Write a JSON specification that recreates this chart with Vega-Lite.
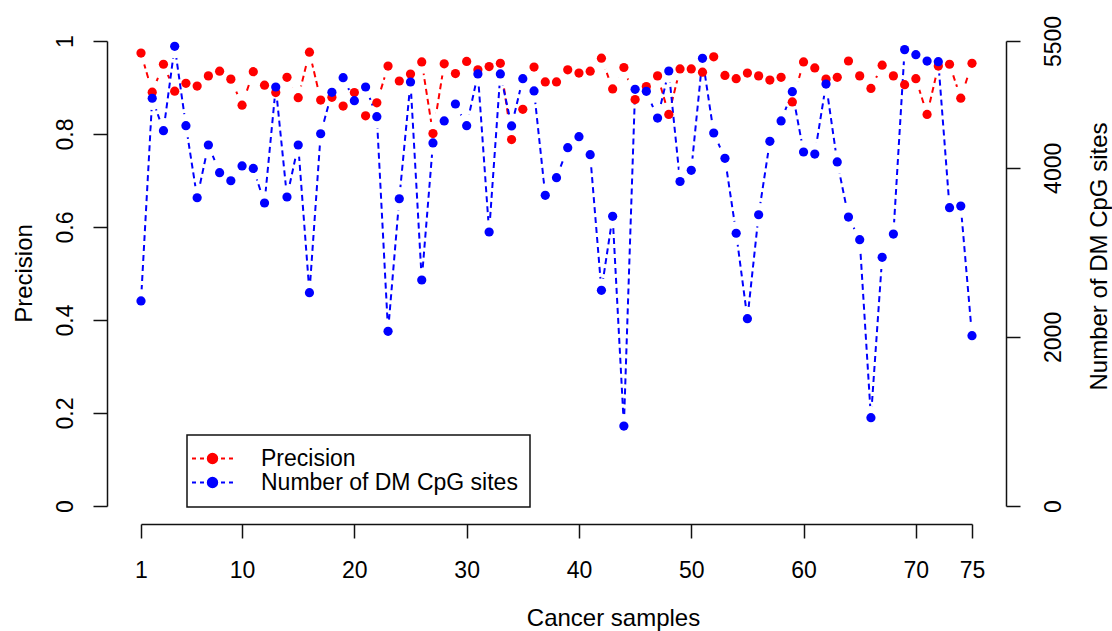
{
  "$schema": "https://vega.github.io/schema/vega-lite/v6.json",
  "width": 831,
  "height": 465,
  "autosize": "none",
  "padding": {"left": 141, "top": 41, "right": 140, "bottom": 125},
  "background": "white",
  "config": {
    "view": {"stroke": null},
    "font": "Liberation Sans",
    "axis": {
      "grid": false,
      "domainColor": "#111111",
      "tickColor": "#111111",
      "labelColor": "#000000",
      "titleColor": "#000000",
      "domainWidth": 1.5,
      "tickWidth": 1.5,
      "tickSize": 14,
      "labelFontSize": 23,
      "titleFontSize": 24,
      "titleFontWeight": "normal",
      "labelFlush": false,
      "labelOverlap": false,
      "labelFont": "Liberation Sans",
      "titleFont": "Liberation Sans"
    }
  },
  "data": {
    "values": [
      {"sample": 1, "precision": 0.974, "sites": 2425},
      {"sample": 2, "precision": 0.890, "sites": 4823},
      {"sample": 3, "precision": 0.950, "sites": 4439},
      {"sample": 4, "precision": 0.892, "sites": 5437},
      {"sample": 5, "precision": 0.909, "sites": 4498},
      {"sample": 6, "precision": 0.903, "sites": 3646},
      {"sample": 7, "precision": 0.925, "sites": 4270},
      {"sample": 8, "precision": 0.935, "sites": 3942},
      {"sample": 9, "precision": 0.918, "sites": 3847},
      {"sample": 10, "precision": 0.862, "sites": 4022},
      {"sample": 11, "precision": 0.934, "sites": 3993},
      {"sample": 12, "precision": 0.905, "sites": 3584},
      {"sample": 13, "precision": 0.889, "sites": 4956},
      {"sample": 14, "precision": 0.922, "sites": 3655},
      {"sample": 15, "precision": 0.878, "sites": 4270},
      {"sample": 16, "precision": 0.976, "sites": 2523},
      {"sample": 17, "precision": 0.873, "sites": 4403},
      {"sample": 18, "precision": 0.879, "sites": 4893},
      {"sample": 19, "precision": 0.860, "sites": 5066},
      {"sample": 20, "precision": 0.889, "sites": 4794},
      {"sample": 21, "precision": 0.839, "sites": 4956},
      {"sample": 22, "precision": 0.867, "sites": 4605},
      {"sample": 23, "precision": 0.946, "sites": 2066},
      {"sample": 24, "precision": 0.914, "sites": 3634},
      {"sample": 25, "precision": 0.929, "sites": 5015},
      {"sample": 26, "precision": 0.955, "sites": 2673},
      {"sample": 27, "precision": 0.801, "sites": 4294},
      {"sample": 28, "precision": 0.951, "sites": 4554},
      {"sample": 29, "precision": 0.930, "sites": 4755},
      {"sample": 30, "precision": 0.956, "sites": 4498},
      {"sample": 31, "precision": 0.938, "sites": 5110},
      {"sample": 32, "precision": 0.945, "sites": 3241},
      {"sample": 33, "precision": 0.952, "sites": 5110},
      {"sample": 34, "precision": 0.788, "sites": 4495},
      {"sample": 35, "precision": 0.853, "sites": 5054},
      {"sample": 36, "precision": 0.944, "sites": 4909},
      {"sample": 37, "precision": 0.912, "sites": 3675},
      {"sample": 38, "precision": 0.912, "sites": 3883},
      {"sample": 39, "precision": 0.938, "sites": 4238},
      {"sample": 40, "precision": 0.931, "sites": 4368},
      {"sample": 41, "precision": 0.935, "sites": 4155},
      {"sample": 42, "precision": 0.963, "sites": 2551},
      {"sample": 43, "precision": 0.897, "sites": 3426},
      {"sample": 44, "precision": 0.943, "sites": 946},
      {"sample": 45, "precision": 0.874, "sites": 4929},
      {"sample": 46, "precision": 0.902, "sites": 4905},
      {"sample": 47, "precision": 0.925, "sites": 4589},
      {"sample": 48, "precision": 0.842, "sites": 5145},
      {"sample": 49, "precision": 0.940, "sites": 3838},
      {"sample": 50, "precision": 0.940, "sites": 3970},
      {"sample": 51, "precision": 0.933, "sites": 5295},
      {"sample": 52, "precision": 0.966, "sites": 4412},
      {"sample": 53, "precision": 0.926, "sites": 4112},
      {"sample": 54, "precision": 0.919, "sites": 3226},
      {"sample": 55, "precision": 0.931, "sites": 2216},
      {"sample": 56, "precision": 0.925, "sites": 3445},
      {"sample": 57, "precision": 0.916, "sites": 4313},
      {"sample": 58, "precision": 0.922, "sites": 4554},
      {"sample": 59, "precision": 0.869, "sites": 4900},
      {"sample": 60, "precision": 0.955, "sites": 4187},
      {"sample": 61, "precision": 0.942, "sites": 4163},
      {"sample": 62, "precision": 0.918, "sites": 4991},
      {"sample": 63, "precision": 0.922, "sites": 4069},
      {"sample": 64, "precision": 0.957, "sites": 3418},
      {"sample": 65, "precision": 0.925, "sites": 3150},
      {"sample": 66, "precision": 0.898, "sites": 1044},
      {"sample": 67, "precision": 0.948, "sites": 2942},
      {"sample": 68, "precision": 0.925, "sites": 3217},
      {"sample": 69, "precision": 0.906, "sites": 5398},
      {"sample": 70, "precision": 0.919, "sites": 5338},
      {"sample": 71, "precision": 0.842, "sites": 5263},
      {"sample": 72, "precision": 0.946, "sites": 5255},
      {"sample": 73, "precision": 0.950, "sites": 3529},
      {"sample": 74, "precision": 0.877, "sites": 3548},
      {"sample": 75, "precision": 0.952, "sites": 2014}
    ]
  },
  "encoding": {
    "x": {
      "field": "sample",
      "type": "quantitative",
      "scale": {"domain": [1, 75], "nice": false, "zero": false},
      "axis": {
        "orient": "bottom",
        "offset": 18,
        "values": [1, 10, 20, 30, 40, 50, 60, 70, 75],
        "format": "d",
        "labelPadding": 21,
        "labelBaseline": "top",
        "title": "Cancer samples",
        "titleX": 472,
        "titleY": 101,
        "titleAlign": "center",
        "titleBaseline": "alphabetic"
      }
    }
  },
  "layer": [
    {
      "mark": {"type": "line", "color": "#ff0000", "strokeDash": [6, 4], "strokeWidth": 2},
      "encoding": {
        "y": {
          "field": "precision",
          "type": "quantitative",
          "scale": {"domain": [0, 1], "nice": false, "zero": false},
          "axis": {
            "orient": "left",
            "offset": 34,
            "values": [0, 0.2, 0.4, 0.6, 0.8, 1],
            "format": "~g",
            "labelAngle": 270,
            "labelAlign": "center",
            "labelBaseline": "alphabetic",
            "labelPadding": 21,
            "title": "Precision",
            "titleAngle": 270,
            "titleAlign": "center",
            "titleBaseline": "alphabetic",
            "titleX": -76,
            "titleY": 232
          }
        }
      }
    },
    {
      "mark": {"type": "point", "shape": "circle", "filled": true, "color": "#ffffff", "opacity": 1, "size": 560},
      "encoding": {
        "y": {"field": "precision", "type": "quantitative", "scale": {"domain": [0, 1], "nice": false, "zero": false}, "axis": null}
      }
    },
    {
      "mark": {"type": "line", "color": "#0000ff", "strokeDash": [6, 4], "strokeWidth": 2},
      "encoding": {
        "y": {
          "field": "sites",
          "type": "quantitative",
          "scale": {"domain": [0, 5500], "nice": false, "zero": false},
          "axis": {
            "orient": "right",
            "offset": 34,
            "values": [0, 2000, 4000, 5500],
            "format": "d",
            "labelAngle": 270,
            "labelAlign": "center",
            "labelBaseline": "alphabetic",
            "labelPadding": 40,
            "title": "Number of DM CpG sites",
            "titleAngle": 270,
            "titleAlign": "center",
            "titleBaseline": "alphabetic",
            "titleX": 100,
            "titleY": 215
          }
        }
      }
    },
    {
      "mark": {"type": "point", "shape": "circle", "filled": true, "color": "#ffffff", "opacity": 1, "size": 560},
      "encoding": {
        "y": {"field": "sites", "type": "quantitative", "scale": {"domain": [0, 5500], "nice": false, "zero": false}, "axis": null}
      }
    },
    {
      "mark": {"type": "point", "shape": "M-4.1,0L-3.3,0M-2.5,0L-1.7,0M1.7,0L2.5,0M3.3,0L4.1,0M0.94,0A0.94,0.94,0,1,1,-0.94,0A0.94,0.94,0,1,1,0.94,0Z", "filled": true, "opacity": 0, "size": 100},
      "encoding": {
        "y": {"field": "precision", "type": "quantitative", "scale": {"domain": [0, 1], "nice": false, "zero": false}, "axis": null},
        "color": {
          "datum": "Precision",
          "type": "nominal",
          "scale": {"domain": ["Precision", "Number of DM CpG sites"], "range": ["#ff0000", "#0000ff"]},
          "legend": {
            "orient": "none",
            "legendX": 46,
            "legendY": 394,
            "title": null,
            "symbolType": "M-4.1,0L-3.3,0M-2.5,0L-1.7,0M1.7,0L2.5,0M3.3,0L4.1,0M0.94,0A0.94,0.94,0,1,1,-0.94,0A0.94,0.94,0,1,1,0.94,0Z",
            "symbolSize": 100,
            "symbolStrokeWidth": 2,
            "symbolOffset": 2,
            "labelOffset": 37,
            "labelFontSize": 23,
            "labelLimit": 0,
            "labelFont": "Liberation Sans",
            "labelColor": "#000000",
            "padding": 12,
            "rowPadding": 0,
            "strokeColor": "#111111",
            "symbolOpacity": 1,
            "encode": {
              "symbols": {
                "update": {
                  "fill": {"scale": "color", "field": "value"},
                  "stroke": {"scale": "color", "field": "value"},
                  "strokeWidth": {"value": 2},
                  "opacity": {"value": 1}
                }
              },
              "legend": {"update": {"strokeWidth": {"value": 1.5}}}
            }
          }
        }
      }
    },
    {
      "mark": {"type": "circle", "opacity": 1, "size": 85},
      "encoding": {
        "y": {"field": "precision", "type": "quantitative", "scale": {"domain": [0, 1], "nice": false, "zero": false}, "axis": null},
        "color": {"datum": "Precision", "type": "nominal"}
      }
    },
    {
      "mark": {"type": "circle", "opacity": 1, "size": 85},
      "encoding": {
        "y": {"field": "sites", "type": "quantitative", "scale": {"domain": [0, 5500], "nice": false, "zero": false}, "axis": null},
        "color": {"datum": "Number of DM CpG sites", "type": "nominal"}
      }
    }
  ],
  "resolve": {"scale": {"y": "independent"}}
}
